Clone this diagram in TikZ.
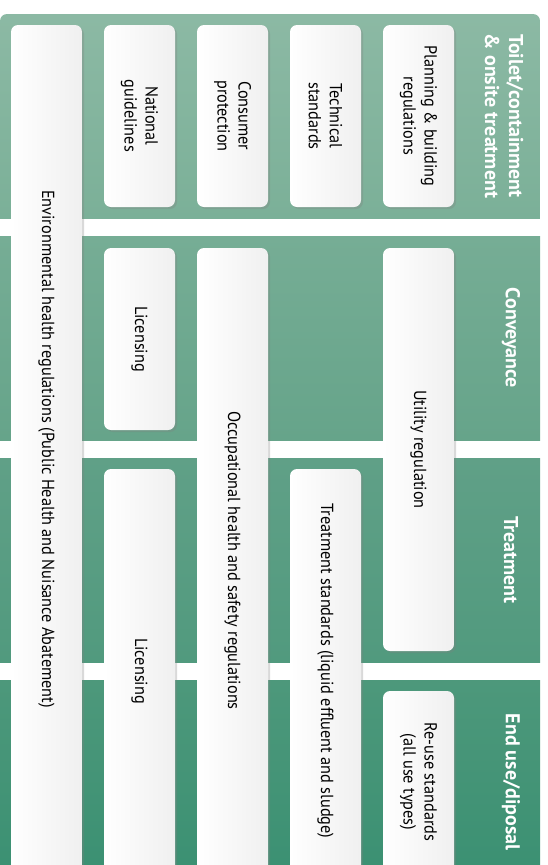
\documentclass[tikz,border=0pt]{standalone}
\usepackage{fontspec}
\setmainfont{PT Sans}
\newfontfamily\narrowfont{PT Sans}[FakeStretch=0.93]
\usetikzlibrary{shadows}
\definecolor{stageAtop}{HTML}{8CB9A4}
\definecolor{stageAbot}{HTML}{7BB098}
\definecolor{stageBtop}{HTML}{76AD95}
\definecolor{stageBbot}{HTML}{66A48A}
\definecolor{stageCtop}{HTML}{60A087}
\definecolor{stageCbot}{HTML}{519A7E}
\definecolor{stageDtop}{HTML}{4D987B}
\definecolor{stageDbot}{HTML}{3A9072}
\tikzset{
  regbox/.style={rectangle, rounded corners=7pt, rotate=-90, minimum height=71pt, inner sep=2pt, align=center, left color=white, right color=black!6, text=black, font=\narrowfont\fontsize{17.5}{21}\selectfont, drop shadow={shadow xshift=2pt, shadow yshift=-2pt, opacity=0.3}},
  stagelabel/.style={rotate=-90, align=center, text=white, inner sep=0pt, font=\bfseries\fontsize{20}{24}\selectfont},
}

\begin{document}
\begin{tikzpicture}[x=1pt,y=-1pt]
  \useasboundingbox (0,0) rectangle (547,865);
  \clip (0,0) rectangle (547,865);
  % stage bands
  \begin{scope}
    \clip[rounded corners=7pt] (0,14) rectangle (540,240);
    \shade[top color=stageAtop, bottom color=stageAbot] (0,14) rectangle (540,218);
  \end{scope}
  \shade[top color=stageBtop, bottom color=stageBbot] (0,236) rectangle (540,440);
  \shade[top color=stageCtop, bottom color=stageCbot] (0,458) rectangle (540,662);
  \shade[top color=stageDtop, bottom color=stageDbot] (0,680) rectangle (540,884);
  \node[stagelabel] (toilet) at (504,116) {Toilet/containment\\\& onsite treatment};
  \node[stagelabel] (conv) at (511,338) {Conveyance};
  \node[stagelabel] (treat) at (511,560) {Treatment};
  \node[stagelabel] (enduse) at (511,782) {End use/diposal};
  % regulation boxes
  \node[regbox,minimum width=848pt] (envhealth) at (46.5,449) {Environmental health regulations (Public Health and Nuisance Abatement)};
  \node[regbox,minimum width=182pt] (natguide) at (139.5,116) {National\\guidelines};
  \node[regbox,minimum width=182pt] (consprot) at (232.5,116) {Consumer\\protection};
  \node[regbox,minimum width=182pt] (techstd) at (325.5,116) {Technical\\standards};
  \node[regbox,minimum width=182pt] (planbuild) at (418.5,116) {Planning \& building\\regulations};
  \node[regbox,minimum width=182pt] (licconv) at (139.5,339) {Licensing};
  \node[regbox,minimum width=625pt] (occhealth) at (232.5,560.5) {Occupational health and safety regulations};
  \node[regbox,minimum width=403pt] (utilreg) at (418.5,449.5) {Utility regulation};
  \node[regbox,minimum width=404pt] (lictreat) at (139.5,671) {Licensing};
  \node[regbox,minimum width=404pt] (treatstd) at (325.5,671) {Treatment standards (liquid effluent and sludge)};
  \node[regbox,minimum width=182pt] (reusestd) at (418.5,782) {Re-use standards\\(all use types)};
\end{tikzpicture}
\end{document}
